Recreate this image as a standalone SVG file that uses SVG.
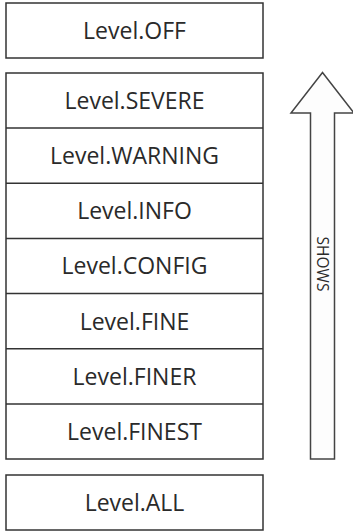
<svg xmlns="http://www.w3.org/2000/svg" width="353" height="531" viewBox="0 0 353 531">
<style>
.box{fill:#ffffff;stroke:#333333;stroke-width:1.5}
.sep{stroke:#333333;stroke-width:1.5}
.lbl{font-family:"Open Sans","Liberation Sans",sans-serif;font-size:23px;fill:#2a2a2a;text-anchor:middle}
.arr{fill:#fdfdfd;stroke:#444444;stroke-width:1.5;stroke-linejoin:miter}
.vl{font-family:"Open Sans","Liberation Sans",sans-serif;font-size:15.5px;fill:#2a2a2a;text-anchor:middle}
</style>
<rect width="353" height="531" fill="#ffffff"/>
<g id="off"><rect class="box" x="6" y="3" width="257" height="55"/><text class="lbl" x="134.5" y="39">Level.OFF</text></g>
<g id="stack">
<rect class="box" x="6" y="73" width="257" height="386"/>
</g>
<g id="severe"><text class="lbl" x="134.5" y="109">Level.SEVERE</text></g>
<line class="sep" x1="6" y1="128.1" x2="263" y2="128.1"/>
<g id="warning"><text class="lbl" x="134.5" y="164.1">Level.WARNING</text></g>
<line class="sep" x1="6" y1="183.3" x2="263" y2="183.3"/>
<g id="info"><text class="lbl" x="134.5" y="219.2">Level.INFO</text></g>
<line class="sep" x1="6" y1="238.4" x2="263" y2="238.4"/>
<g id="config"><text class="lbl" x="134.5" y="274.4">Level.CONFIG</text></g>
<line class="sep" x1="6" y1="293.6" x2="263" y2="293.6"/>
<g id="fine"><text class="lbl" x="134.5" y="329.5">Level.FINE</text></g>
<line class="sep" x1="6" y1="348.7" x2="263" y2="348.7"/>
<g id="finer"><text class="lbl" x="134.5" y="384.7">Level.FINER</text></g>
<line class="sep" x1="6" y1="403.9" x2="263" y2="403.9"/>
<g id="finest"><text class="lbl" x="134.5" y="439.8">Level.FINEST</text></g>
<g id="all"><rect class="box" x="6" y="475" width="257" height="55"/><text class="lbl" x="134.5" y="511">Level.ALL</text></g>
<g id="connectors">
<polygon class="arr" points="322.5,72.5 354,113 334.5,113 334.5,459 310.5,459 310.5,113 291,113"/>
<text class="vl" transform="translate(316.5,264) rotate(90)" x="0" y="0">SHOWS</text>
</g>
</svg>
